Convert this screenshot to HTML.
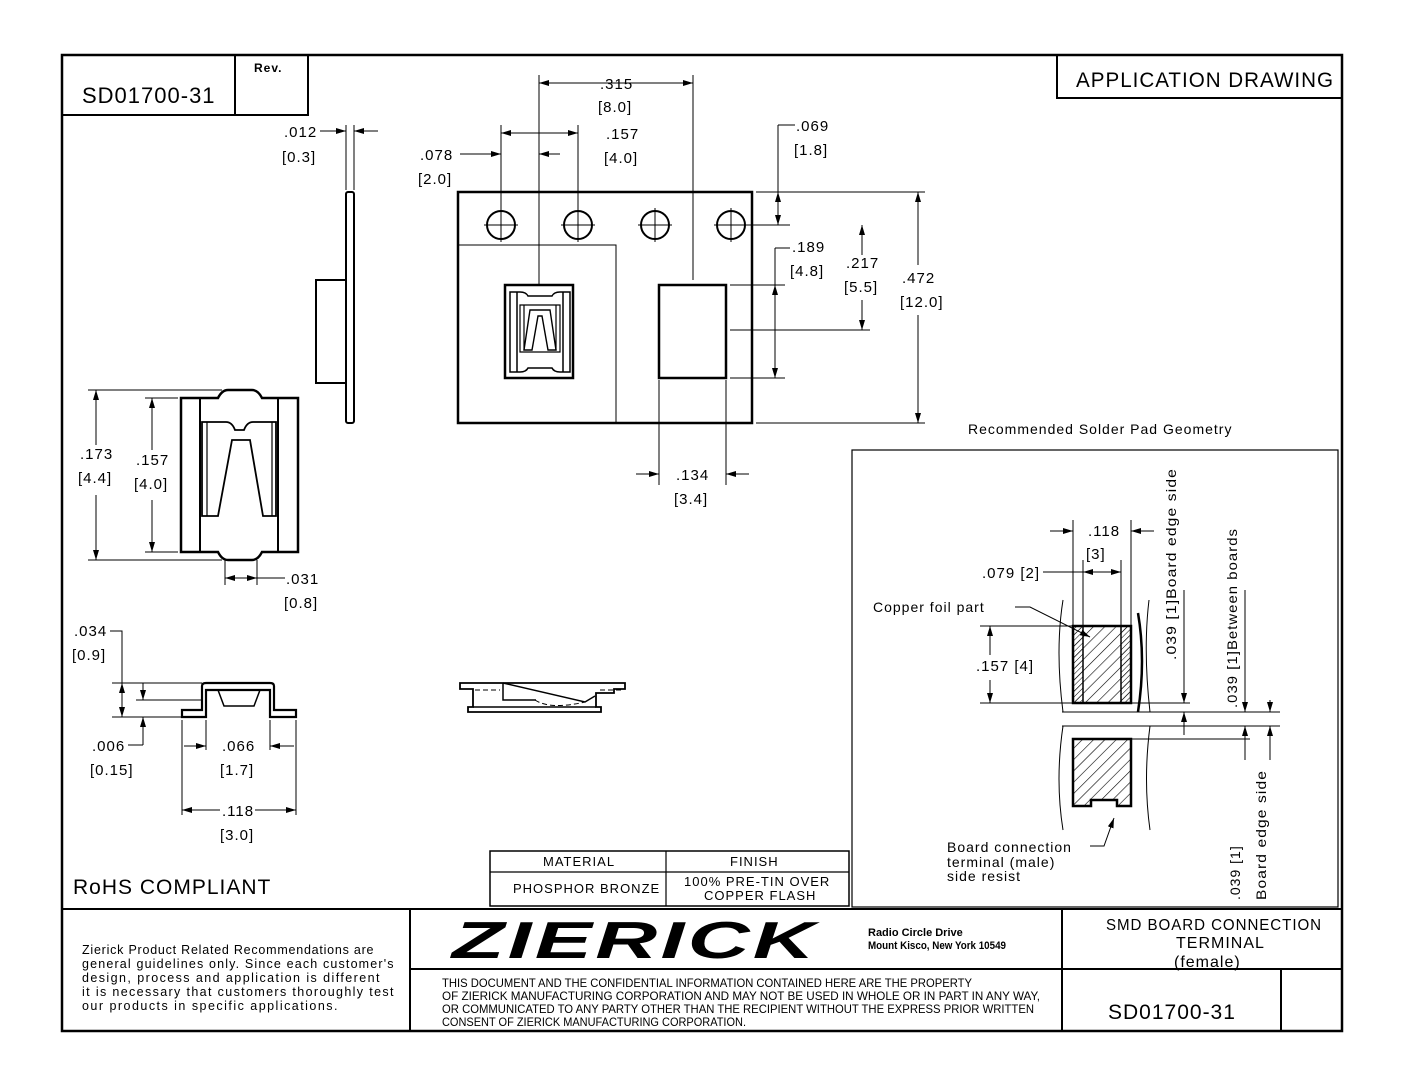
<!DOCTYPE html>
<html><head><meta charset="utf-8"><style>
html,body{margin:0;padding:0;background:#fff}
svg{display:block}
text{font-family:"Liberation Sans",sans-serif;fill:#000}
.t{font-size:15px;letter-spacing:1px}
</style></head><body>
<svg width="1408" height="1088" viewBox="0 0 1408 1088" xmlns="http://www.w3.org/2000/svg">
<defs>
<marker id="a" viewBox="0 0 10 6" refX="10" refY="3" markerWidth="10" markerHeight="6" orient="auto-start-reverse" markerUnits="userSpaceOnUse"><path d="M0,0L10,3L0,6z" fill="#000"/></marker>
<pattern id="h" width="8" height="8" patternUnits="userSpaceOnUse" patternTransform="rotate(45)"><line x1="0" y1="0" x2="0" y2="8" stroke="#000" stroke-width="1.2"/></pattern>
<pattern id="h2" width="4" height="4" patternUnits="userSpaceOnUse" patternTransform="rotate(45)"><line x1="0" y1="0" x2="0" y2="4" stroke="#000" stroke-width="1"/></pattern>
</defs>
<g fill="none" stroke="#000">
<rect x="62" y="55" width="1280" height="976" stroke-width="2.5"/>
<path d="M62 115H308V55M235 55V115" stroke-width="2"/>
<path d="M1057 55V98H1342" stroke-width="2"/>
<path d="M62 909H1342M410 909V1031M1062 909V1031M410 969H1342M1281 969V1031" stroke-width="2"/>
<rect x="490" y="851" width="359" height="55" stroke-width="1.5"/>
<path d="M490 872H849M666 851V906" stroke-width="1.2"/>
<rect x="852" y="450" width="486" height="457" stroke-width="1.2"/>

<rect x="458" y="192" width="294" height="231" stroke-width="2.5"/>
<path d="M458 245H616V423" stroke-width="1"/>
<g stroke-width="2">
<circle cx="501" cy="225" r="14"/><circle cx="578" cy="225" r="14"/><circle cx="655" cy="225" r="14"/><circle cx="731" cy="225" r="14"/>
</g>
<g stroke-width="1">
<path d="M484 225h34M501 208v34M561 225h34M578 208v34M638 225h34M655 208v34M714 225h34M731 208v34"/>
</g>
<rect x="505" y="285" width="68" height="93" stroke-width="2.5"/>
<path d="M510 292H520Q526 292 528 296H552Q554 292 560 292H570V372H560Q554 372 552 368H528Q526 372 520 372H510Z" stroke-width="1.5"/>
<path d="M517 292V372M563 292V372" stroke-width="1.5"/>
<path d="M520 305H560V352H520Z" stroke-width="1.2"/>
<path d="M524 305V350M556 305V350" stroke-width="1.2"/>
<path d="M530 310L550 310L556 350L548 350L542 316L538 316L532 350L524 350Z" stroke-width="1.4"/>
<rect x="659" y="285" width="67" height="93" stroke-width="2.5"/>

<g stroke-width="1">
<path d="M539 75V285M693 75V280" />
<path d="M539 83H693" marker-start="url(#a)" marker-end="url(#a)"/>
<path d="M501 125V210M578 125V210"/>
<path d="M501 133H578" marker-start="url(#a)" marker-end="url(#a)"/>
<path d="M460 154H501" marker-end="url(#a)"/>
<path d="M539 154H560" marker-start="url(#a)"/>
<path d="M778 125H795M778 125V225" />
<path d="M778 192V225" marker-start="url(#a)" marker-end="url(#a)"/>
<path d="M756 192H925M745 225H790M730 285H785M730 330H870M730 378H785M756 423H925"/>
<path d="M775 248H790M775 248V378"/>
<path d="M775 285V378" marker-start="url(#a)" marker-end="url(#a)"/>
<path d="M862 225V255M862 300V330" />
<path d="M862 225V240" marker-start="url(#a)"/><path d="M862 315V330" marker-end="url(#a)"/>
<path d="M918 192V265M918 315V423"/>
<path d="M918 192V210" marker-start="url(#a)"/><path d="M918 405V423" marker-end="url(#a)"/>
<path d="M659 380V485M726 380V485"/>
<path d="M636 474H659" marker-end="url(#a)"/>
<path d="M749 474H726" marker-end="url(#a)"/>
</g>

<rect x="346" y="192" width="8" height="231" rx="2" stroke-width="2"/>
<rect x="316" y="280" width="30" height="103" stroke-width="2"/>
<g stroke-width="1">
<path d="M346 125V190M354 125V190"/>
<path d="M320 131H346" marker-end="url(#a)"/>
<path d="M378 131H354" marker-end="url(#a)"/>
</g>

<path d="M181 398H218Q222 390 228 390H252Q258 390 262 398H298V552H262Q258 560 252 560H228Q222 560 218 552H181Z" stroke-width="2.5"/>
<path d="M200 398V552M278 398V552" stroke-width="2"/>
<path d="M202 422H226Q232 422 235 430H244Q247 422 253 422H276V516H263L250 440H232L218 516H202Z" stroke-width="1.8"/>
<path d="M207 422V516M272 422V516" stroke-width="1.2"/>
<g stroke-width="1">
<path d="M88 390H222M88 560H222M145 398H178M145 552H178"/>
<path d="M96 390V445M96 495V560"/>
<path d="M96 390V405" marker-start="url(#a)"/><path d="M96 545V560" marker-end="url(#a)"/>
<path d="M152 398V450M152 500V552"/>
<path d="M152 398V413" marker-start="url(#a)"/><path d="M152 537V552" marker-end="url(#a)"/>
<path d="M225 560V585M257 560V585"/>
<path d="M225 578H241" marker-start="url(#a)"/>
<path d="M241 578H257" marker-end="url(#a)"/>
<path d="M257 578H285"/>
</g>

<path d="M182 710H202V686Q202 683 206 683H270Q274 683 274 686V710H296V717H270V690H206V717H182Z" stroke-width="2.2"/>
<path d="M218 690L224 706H254L260 690" stroke-width="1.5"/>
<g stroke-width="1">
<path d="M112 683H202M112 717H182M136 700H202"/>
<path d="M110 631H122V717"/>
<path d="M122 683V717" marker-start="url(#a)" marker-end="url(#a)"/>
<path d="M143 683V700" marker-end="url(#a)"/>
<path d="M143 745V717" marker-end="url(#a)"/>
<path d="M128 745H143"/>
<path d="M182 720V815M206 720V750M270 720V750M296 720V815"/>
<path d="M184 746H206" marker-end="url(#a)"/>
<path d="M294 746H270" marker-end="url(#a)"/>
<path d="M182 810H220M255 810H296"/>
<path d="M182 810H195" marker-start="url(#a)"/><path d="M283 810H296" marker-end="url(#a)"/>
</g>

<path d="M460 683H625V689H614V693H596V707H601V712H468V707H473V689H460Z" stroke-width="1.8"/>
<path d="M473 707H596M503 683L585 702L595 696M503 683V700H536" stroke-width="1.5"/>
<path d="M475 690H500M600 690H622M535 700Q550 710 585 702" stroke-width="1" stroke-dasharray="5,3"/>

<rect x="1073" y="626" width="58" height="77" fill="url(#h)" stroke-width="2.5"/>
<rect x="1073" y="626" width="10" height="77" fill="url(#h2)" stroke-width="1.5"/>
<rect x="1121" y="626" width="10" height="77" fill="url(#h2)" stroke-width="1.5"/>
<path d="M1073 739H1131V806H1117V800H1091V806H1073Z" fill="url(#h)" stroke-width="2.5"/>
<path d="M1138 613Q1146 660 1138 712" stroke-width="2.5"/>
<g stroke-width="1">
<path d="M1063 600Q1055 650 1063 712M1063 726Q1055 780 1063 830M1149 600Q1143 650 1150 712M1150 726Q1143 780 1150 830"/>
<path d="M1062 712H1280M1062 726H1280M1062 703H1190M1131 739H1250"/>
<path d="M1073 520V626M1083 560V626M1121 560V626M1131 520V626"/>
<path d="M1050 531H1073" marker-end="url(#a)"/>
<path d="M1154 531H1131" marker-end="url(#a)"/>
<path d="M1083 572H1121" marker-start="url(#a)" marker-end="url(#a)"/>
<path d="M1043 572H1083"/>
<path d="M980 626H1073M980 703H1062"/>
<path d="M990 626V655M990 680V703"/>
<path d="M990 626V640" marker-start="url(#a)"/><path d="M990 689V703" marker-end="url(#a)"/>
<path d="M1184 590V703" marker-end="url(#a)"/>
<path d="M1184 735V712" marker-end="url(#a)"/>
<path d="M1245 590V712" marker-end="url(#a)"/>
<path d="M1245 760V726" marker-end="url(#a)"/>
<path d="M1270 700V712" marker-end="url(#a)"/>
<path d="M1270 760V726" marker-end="url(#a)"/>
<path d="M1015 607H1030L1090 637" marker-end="url(#a)"/>
<path d="M1090 846H1104L1114 818" marker-end="url(#a)"/>
</g>
</g>

<g class="t">
<text x="82" y="103" font-size="22">SD01700-31</text>
<text x="254" y="72" font-size="12" font-weight="bold">Rev.</text>
<text x="1076" y="87" font-size="21" textLength="258" lengthAdjust="spacingAndGlyphs">APPLICATION DRAWING</text>
<text x="600" y="89">.315</text><text x="598" y="112">[8.0]</text>
<text x="606" y="139">.157</text><text x="604" y="163">[4.0]</text>
<text x="420" y="160">.078</text><text x="418" y="184">[2.0]</text>
<text x="284" y="137">.012</text><text x="282" y="162">[0.3]</text>
<text x="796" y="131">.069</text><text x="794" y="155">[1.8]</text>
<text x="792" y="252">.189</text><text x="790" y="276">[4.8]</text>
<text x="846" y="268">.217</text><text x="844" y="292">[5.5]</text>
<text x="902" y="283">.472</text><text x="900" y="307">[12.0]</text>
<text x="676" y="480">.134</text><text x="674" y="504">[3.4]</text>
<text x="80" y="459">.173</text><text x="78" y="483">[4.4]</text>
<text x="136" y="465">.157</text><text x="134" y="489">[4.0]</text>
<text x="286" y="584">.031</text><text x="284" y="608">[0.8]</text>
<text x="74" y="636">.034</text><text x="72" y="660">[0.9]</text>
<text x="92" y="751">.006</text><text x="90" y="775">[0.15]</text>
<text x="222" y="751">.066</text><text x="220" y="775">[1.7]</text>
<text x="222" y="816">.118</text><text x="220" y="840">[3.0]</text>
<text x="968" y="434" font-size="14">Recommended Solder Pad Geometry</text>
<text x="1088" y="536">.118</text><text x="1086" y="559">[3]</text>
<text x="982" y="578">.079 [2]</text>
<text x="873" y="612" font-size="14">Copper foil part</text>
<text x="976" y="671">.157 [4]</text>
<text x="947" y="852" font-size="14">Board connection</text>
<text x="947" y="867" font-size="14">terminal (male)</text>
<text x="947" y="881" font-size="14">side resist</text>
<text transform="translate(1176 660) rotate(-90)" font-size="14" textLength="192" lengthAdjust="spacingAndGlyphs">.039 [1]Board edge side</text>
<text transform="translate(1237 708) rotate(-90)" font-size="14" textLength="180" lengthAdjust="spacingAndGlyphs">.039 [1]Between boards</text>
<text transform="translate(1240 900) rotate(-90)" font-size="14">.039 [1]</text>
<text transform="translate(1266 900) rotate(-90)" font-size="14" textLength="130" lengthAdjust="spacingAndGlyphs">Board edge side</text>
<text x="73" y="894" font-size="21">RoHS COMPLIANT</text>
<text x="543" y="866" font-size="13">MATERIAL</text>
<text x="730" y="866" font-size="13">FINISH</text>
<text x="513" y="893" font-size="13">PHOSPHOR BRONZE</text>
<text x="684" y="886" font-size="13">100% PRE-TIN OVER</text>
<text x="704" y="900" font-size="13">COPPER FLASH</text>
<g font-size="12.5" letter-spacing="0.5">
<text x="82" y="954" textLength="292">Zierick Product Related Recommendations are</text>
<text x="82" y="968" textLength="312">general guidelines only. Since each customer's</text>
<text x="82" y="982" textLength="298">design, process and application is different</text>
<text x="82" y="996" textLength="312">it is necessary that customers thoroughly test</text>
<text x="82" y="1010" textLength="256">our products in specific applications.</text>
</g>
<text x="452" y="958" font-size="52" font-weight="bold" font-style="italic" letter-spacing="2" textLength="366" lengthAdjust="spacingAndGlyphs">ZIERICK</text>
<text x="868" y="936" font-size="11" font-weight="bold" letter-spacing="0">Radio Circle Drive</text>
<text x="868" y="949" font-size="11" font-weight="bold" letter-spacing="0" textLength="138" lengthAdjust="spacingAndGlyphs">Mount Kisco, New York 10549</text>
<g font-size="12" letter-spacing="0">
<text x="442" y="987" textLength="530" lengthAdjust="spacingAndGlyphs">THIS DOCUMENT AND THE CONFIDENTIAL INFORMATION CONTAINED HERE ARE THE PROPERTY</text>
<text x="442" y="1000" textLength="598" lengthAdjust="spacingAndGlyphs">OF ZIERICK MANUFACTURING CORPORATION AND MAY NOT BE USED IN WHOLE OR IN PART IN ANY WAY,</text>
<text x="442" y="1013" textLength="592" lengthAdjust="spacingAndGlyphs">OR COMMUNICATED TO ANY PARTY OTHER THAN THE RECIPIENT WITHOUT THE EXPRESS PRIOR WRITTEN</text>
<text x="442" y="1026" textLength="304" lengthAdjust="spacingAndGlyphs">CONSENT OF ZIERICK MANUFACTURING CORPORATION.</text>
</g>
<text x="1106" y="930" font-size="16" textLength="216" lengthAdjust="spacingAndGlyphs">SMD BOARD CONNECTION</text>
<text x="1176" y="948" font-size="16">TERMINAL</text>
<text x="1174" y="967" font-size="16">(female)</text>
<text x="1108" y="1019" font-size="21">SD01700-31</text>
</g>
</svg>
</body></html>
